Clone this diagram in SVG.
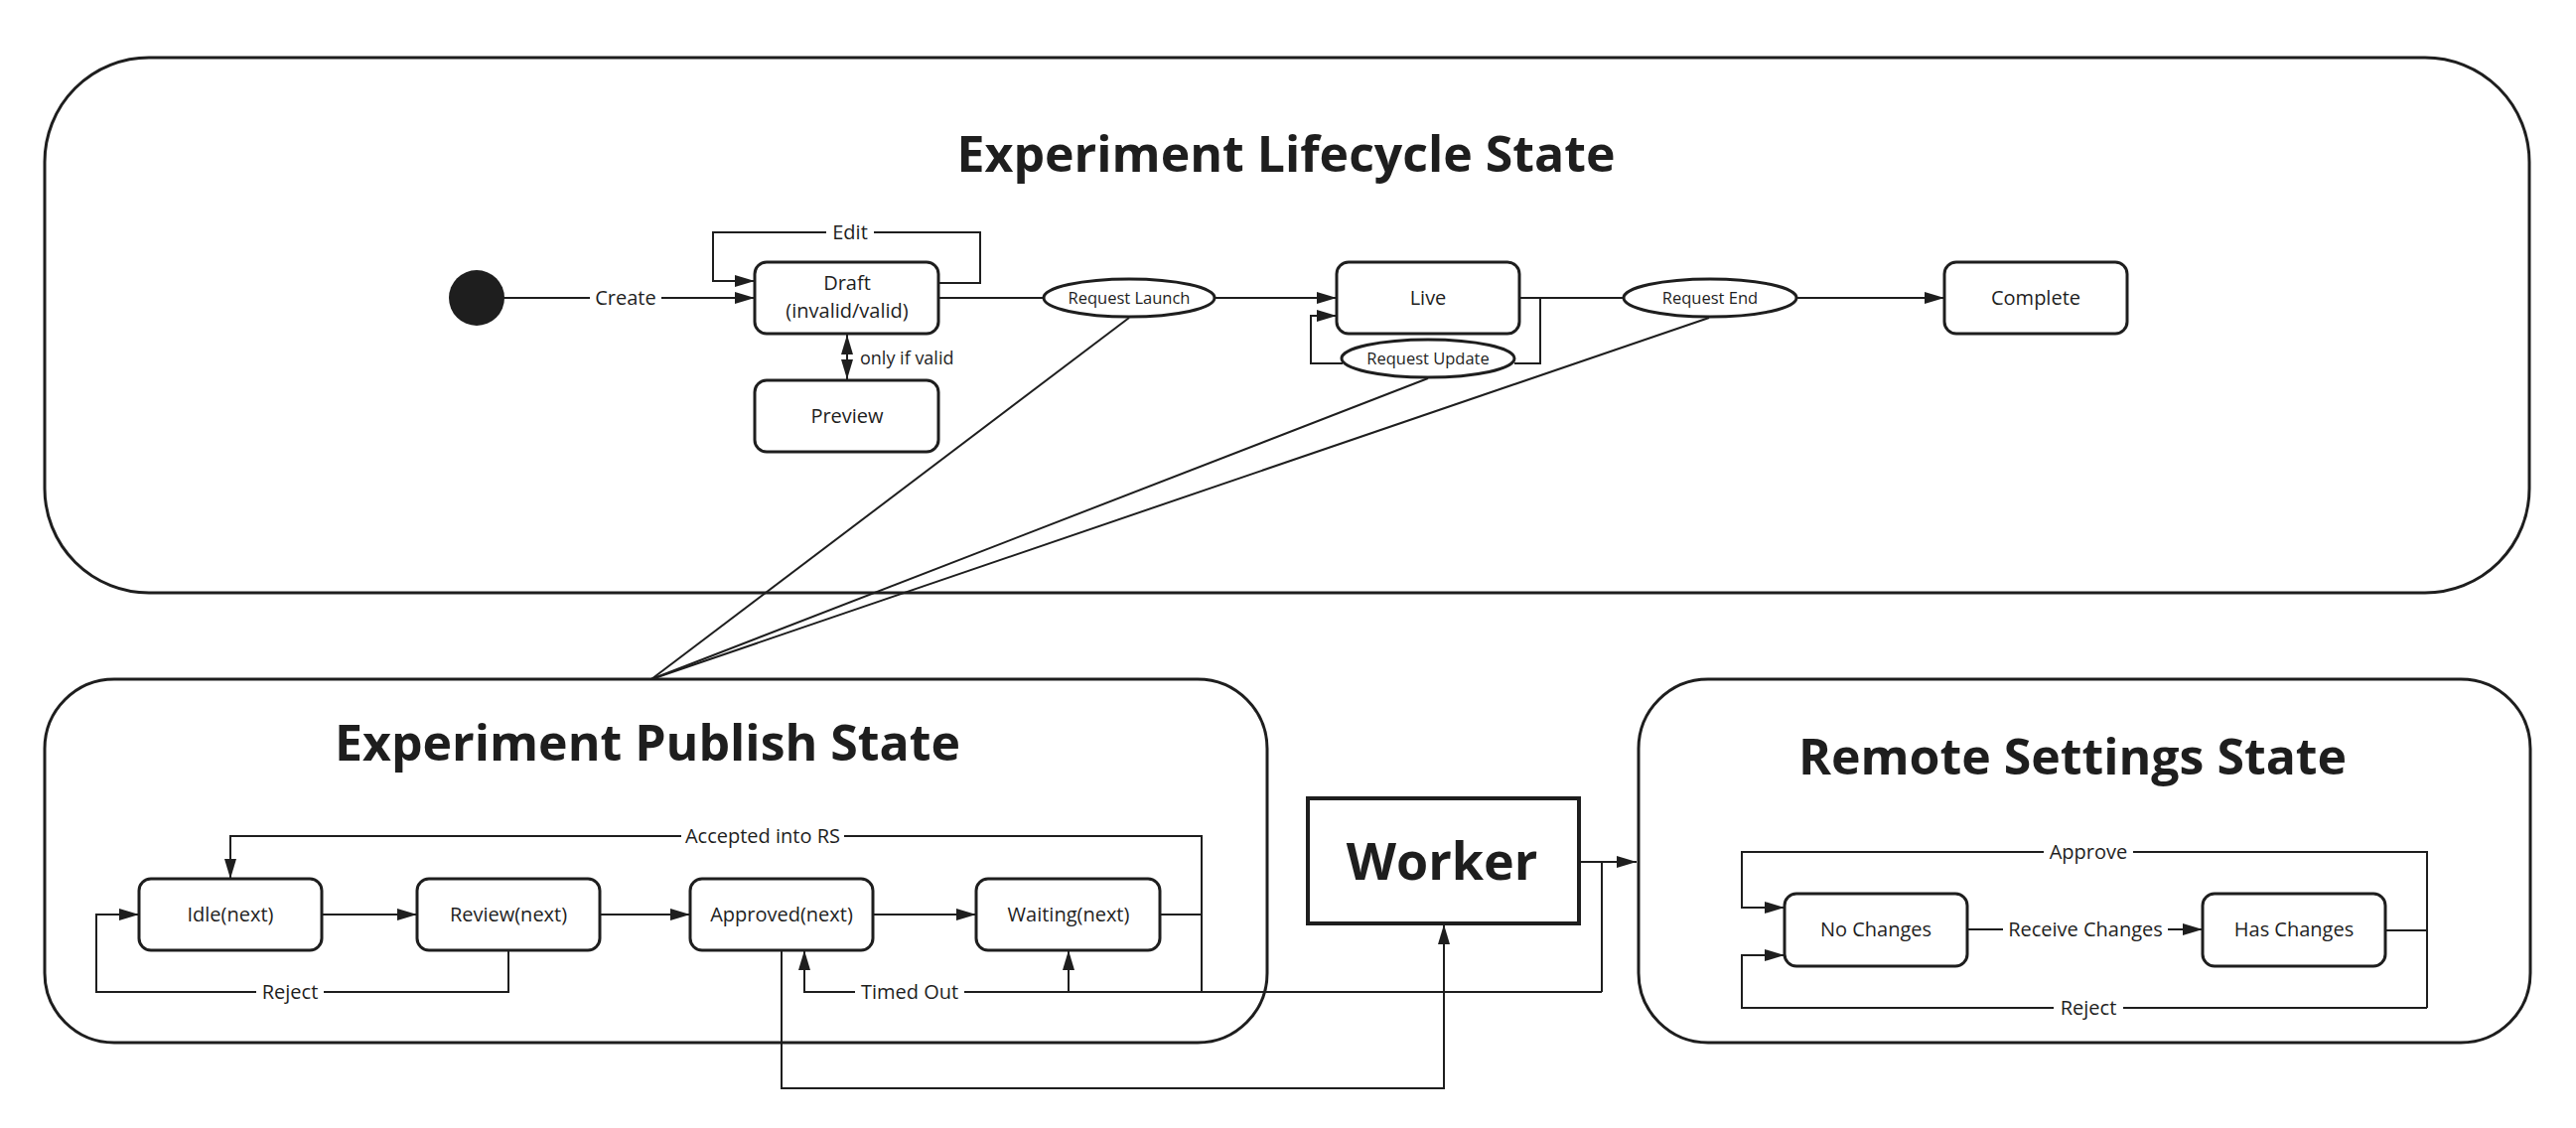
<svg xmlns="http://www.w3.org/2000/svg" width="2594" height="1136" viewBox="0 0 2594 1136">
<style>
.cont{fill:#fff;stroke:#1e1e1e;stroke-width:3}
.node{fill:#fff;stroke:#1e1e1e;stroke-width:3}
.ell{fill:#fff;stroke:#1e1e1e;stroke-width:3}
.c{fill:none;stroke:#1e1e1e;stroke-width:2}
.t{font-family:"Open Sans","Liberation Sans",sans-serif;font-size:20px;fill:#1e1e1e;text-anchor:middle}
.s{font-size:16.5px}
.title{font-family:"Open Sans","Liberation Sans",sans-serif;font-size:50px;font-weight:700;fill:#1e1e1e;text-anchor:middle}
.lb{fill:#fff;stroke:none}
</style>
<defs>
<marker id="a" markerUnits="userSpaceOnUse" markerWidth="20" markerHeight="12" refX="20" refY="6" orient="auto">
<path d="M0,0 L20,6 L0,12 z" fill="#1e1e1e"/>
</marker>
<marker id="as" markerUnits="userSpaceOnUse" markerWidth="20" markerHeight="12" refX="0" refY="6" orient="auto">
<path d="M20,0 L0,6 L20,12 z" fill="#1e1e1e"/>
</marker>
</defs>

<g id="lifecycle-container">
<rect class="cont" x="45" y="58" width="2502" height="539" rx="105"/>
<text class="title" x="1295" y="173">Experiment Lifecycle State</text>
</g>
<g id="publish-container">
<rect class="cont" x="45" y="684" width="1231" height="366" rx="70"/>
<text class="title" x="652" y="766">Experiment Publish State</text>
</g>
<g id="remote-container">
<rect class="cont" x="1650" y="684" width="898" height="366" rx="70"/>
<text class="title" x="2087" y="780">Remote Settings State</text>
</g>

<g id="connectors">
<!-- lifecycle -->
<path class="c" d="M507,300 H760" marker-end="url(#a)"/>
<path class="c" d="M945,285 H987 V234 H718 V283 H760" marker-end="url(#a)"/>
<path class="c" d="M853,337 V382" marker-start="url(#as)" marker-end="url(#a)"/>
<path class="c" d="M945,300 H1051"/>
<path class="c" d="M1223,300 H1346" marker-end="url(#a)"/>
<path class="c" d="M1530,300 H1635"/>
<path class="c" d="M1551,300 V366 H1525"/>
<path class="c" d="M1352,366 H1320 V318 H1346" marker-end="url(#a)"/>
<path class="c" d="M1809,300 H1958" marker-end="url(#a)"/>
<path class="c" d="M1137,320 L656,684"/>
<path class="c" d="M1438,381 L656,684"/>
<path class="c" d="M1721,320 L656,684"/>
<!-- publish -->
<path class="c" d="M324,921 H420" marker-end="url(#a)"/>
<path class="c" d="M603,921 H695" marker-end="url(#a)"/>
<path class="c" d="M879,921 H983" marker-end="url(#a)"/>
<path class="c" d="M1168,921 H1210"/>
<path class="c" d="M1210,999 V842 H232 V885" marker-end="url(#a)"/>
<path class="c" d="M512,957 V999 H97 V921 H140" marker-end="url(#a)"/>
<path class="c" d="M1613,999 H810 V957" marker-end="url(#a)"/>
<path class="c" d="M1076,999 V957" marker-end="url(#a)"/>
<path class="c" d="M1590,868 H1648" marker-end="url(#a)"/>
<path class="c" d="M1613,868 V999"/>
<path class="c" d="M787,957 V1096 H1454 V931" marker-end="url(#a)"/>
<!-- remote -->
<path class="c" d="M1981,936 H2218" marker-end="url(#a)"/>
<path class="c" d="M2402,937 H2444"/>
<path class="c" d="M2444,1015 V858 H1754 V914 H1797" marker-end="url(#a)"/>
<path class="c" d="M2444,1015 H1754 V962 H1797" marker-end="url(#a)"/>
<!-- labels -->
<rect class="lb" x="594" y="288" width="72" height="24"/>
<text class="t" x="630" y="307">Create</text>
<rect class="lb" x="832" y="222" width="48" height="24"/>
<text class="t" x="856" y="241">Edit</text>
<text class="t" x="866" y="367" style="text-anchor:start;font-size:18px">only if valid</text>
<rect class="lb" x="686" y="830" width="164" height="24"/>
<text class="t" x="768" y="849">Accepted into RS</text>
<rect class="lb" x="258" y="987" width="68" height="24"/>
<text class="t" x="292" y="1006">Reject</text>
<rect class="lb" x="861" y="987" width="110" height="24"/>
<text class="t" x="916" y="1006">Timed Out</text>
<rect class="lb" x="2017" y="924" width="166" height="24"/>
<text class="t" x="2100" y="943">Receive Changes</text>
<rect class="lb" x="2058" y="846" width="90" height="24"/>
<text class="t" x="2103" y="865">Approve</text>
<rect class="lb" x="2068" y="1003" width="70" height="24"/>
<text class="t" x="2103" y="1022">Reject</text>
</g>

<g id="start"><circle cx="480" cy="300" r="28" fill="#1e1e1e"/></g>
<g id="draft"><rect class="node" x="760" y="264" width="185" height="72" rx="12"/>
<text class="t" x="853" y="292">Draft</text><text class="t" x="853" y="320">(invalid/valid)</text></g>
<g id="preview"><rect class="node" x="760" y="383" width="185" height="72" rx="12"/>
<text class="t" x="853" y="426">Preview</text></g>
<g id="request-launch"><ellipse class="ell" cx="1137" cy="300" rx="86" ry="19"/>
<text class="t s" x="1137" y="306">Request Launch</text></g>
<g id="live"><rect class="node" x="1346" y="264" width="184" height="72" rx="12"/>
<text class="t" x="1438" y="307">Live</text></g>
<g id="request-update"><ellipse class="ell" cx="1438" cy="361" rx="87" ry="19"/>
<text class="t s" x="1438" y="367">Request Update</text></g>
<g id="request-end"><ellipse class="ell" cx="1722" cy="300" rx="87" ry="19"/>
<text class="t s" x="1722" y="306">Request End</text></g>
<g id="complete"><rect class="node" x="1958" y="264" width="184" height="72" rx="12"/>
<text class="t" x="2050" y="307">Complete</text></g>

<g id="idle"><rect class="node" x="140" y="885" width="184" height="72" rx="12"/>
<text class="t" x="232" y="928">Idle(next)</text></g>
<g id="review"><rect class="node" x="420" y="885" width="184" height="72" rx="12"/>
<text class="t" x="512" y="928">Review(next)</text></g>
<g id="approved"><rect class="node" x="695" y="885" width="184" height="72" rx="12"/>
<text class="t" x="787" y="928">Approved(next)</text></g>
<g id="waiting"><rect class="node" x="983" y="885" width="185" height="72" rx="12"/>
<text class="t" x="1076" y="928">Waiting(next)</text></g>

<g id="worker"><rect x="1317" y="804" width="273" height="126" fill="#fff" stroke="#1e1e1e" stroke-width="4"/>
<text class="title" x="1452" y="886" style="font-size:52px">Worker</text></g>

<g id="no-changes"><rect class="node" x="1797" y="900" width="184" height="73" rx="12"/>
<text class="t" x="1889" y="943">No Changes</text></g>
<g id="has-changes"><rect class="node" x="2218" y="900" width="184" height="73" rx="12"/>
<text class="t" x="2310" y="943">Has Changes</text></g>
</svg>
